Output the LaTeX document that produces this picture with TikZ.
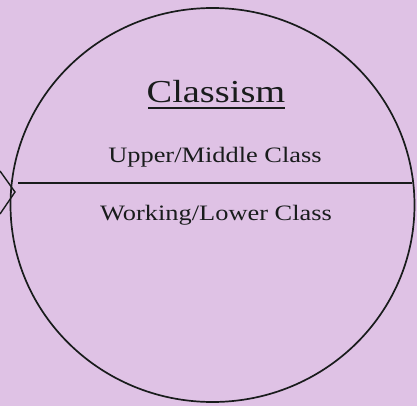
\documentclass[tikz,border=0pt]{standalone}
\usepackage{fontspec}
\setmainfont{Liberation Serif}
\usetikzlibrary{shapes.geometric}
\definecolor{bg}{RGB}{223,194,229}
\definecolor{ink}{RGB}{25,28,28}
\tikzset{
  lbl/.style={text=ink, inner sep=0pt, anchor=base, xscale=1.2},
  outline/.style={draw=ink, line width=1.7pt}
}
\begin{document}
\begin{tikzpicture}[x=1pt,y=-1pt]
\fill[bg] (0,0) rectangle (417,406);
\useasboundingbox (0,0) rectangle (417,406);
\node[outline, ellipse, minimum width=404pt, minimum height=394pt, inner sep=0pt] (circ) at (212.5,205) {};
\coordinate (L) at (18,183);
\coordinate (R) at (412,183);
\draw[outline, line width=2pt] (L) -- (R);
\coordinate (a1) at (0,171);
\coordinate (tip) at (15,192);
\coordinate (a2) at (0,214);
\draw[outline, line width=1.4pt] (a1) -- (tip) -- (a2);
\node[lbl, font=\fontsize{32}{36}\selectfont] (title) at (216,103) {Classism};
\coordinate (u1) at (148,108);
\coordinate (u2) at (285,108);
\draw[draw=ink, line width=1.6pt] (u1) -- (u2);
\node[lbl, font=\fontsize{22}{26}\selectfont] (upper) at (215,163) {Upper/Middle Class};
\node[lbl, font=\fontsize{22}{26}\selectfont] (lower) at (216,220) {Working/Lower Class};
\end{tikzpicture}
\end{document}
